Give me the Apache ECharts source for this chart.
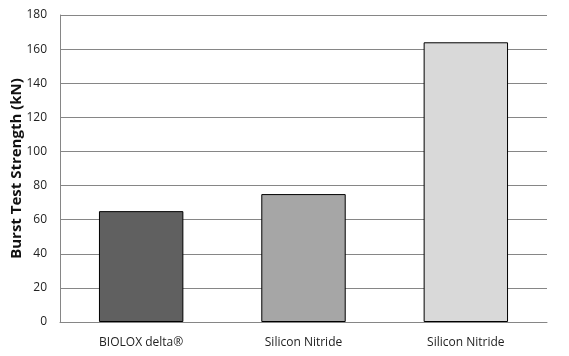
<!DOCTYPE html>
<html><head><meta charset="utf-8">
<script src="https://cdn.jsdelivr.net/npm/echarts@6/dist/echarts.min.js"></script>
<style>html,body{margin:0;padding:0;background:#fff}#c{width:569px;height:356px}</style>
</head><body><div id="c"></div>
<script>
const categories = ['BIOLOX delta\u00AE', 'Silicon Nitride', 'Silicon Nitride'];
const values = [65, 75, 164];
const barColors = ['#606060', '#a6a6a6', '#d9d9d9'];
const yTitle = 'Burst Test Strength (kN)';

const chart = echarts.init(document.getElementById('c'), null, {renderer: 'canvas'});
chart.setOption({
  animation: false,
  backgroundColor: '#fff',
  grid: {left: 60, right: 22, top: 15, bottom: 34, containLabel: false, outerBoundsMode: 'none'},
  xAxis: {
    type: 'category', data: categories,
    axisLine: {lineStyle: {color: '#868686'}},
    axisTick: {show: false},
    axisLabel: {color: '#222', fontFamily: 'Open Sans', fontSize: 12, margin: 15}
  },
  yAxis: {
    type: 'value', min: 0, max: 180, interval: 20,
    name: yTitle, nameLocation: 'middle', nameGap: 36, nameMoveOverlap: false,
    nameTextStyle: {color: '#111', fontFamily: 'Open Sans', fontWeight: 'bold', fontSize: 15},
    axisLine: {show: true, lineStyle: {color: '#868686'}},
    axisTick: {show: false},
    splitLine: {lineStyle: {color: '#868686'}},
    axisLabel: {color: '#222', fontFamily: 'Open Sans', fontSize: 12, margin: 13}
  },
  series: [{
    type: 'bar', barWidth: '52%',
    data: values.map((v, i) => ({value: v, itemStyle: {color: barColors[i]}})),
    itemStyle: {borderColor: '#000', borderWidth: 1}
  }]
});
</script></body></html>
